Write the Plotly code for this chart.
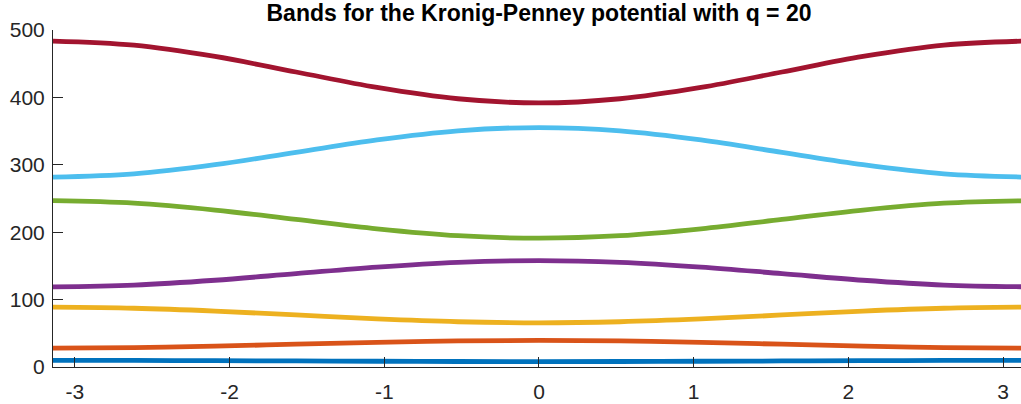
import numpy as np
import plotly.graph_objects as go

# Crystal momentum k (units of 1/a), evenly spaced over the Brillouin zone
k = [-np.pi, -5 * np.pi / 6, -2 * np.pi / 3, -np.pi / 2, -np.pi / 3, -np.pi / 6, 0.0,
     np.pi / 6, np.pi / 3, np.pi / 2, 2 * np.pi / 3, 5 * np.pi / 6, np.pi]

# Energies of the first seven bands at each k
band1 = [9.87, 9.75, 9.4, 8.96, 8.5, 8.17, 8.05, 8.17, 8.5, 8.96, 9.4, 9.75, 9.87]
band2 = [28.0, 28.8, 30.9, 33.8, 36.6, 38.7, 39.5, 38.7, 36.6, 33.8, 30.9, 28.8, 28.0]
band3 = [88.8, 87.2, 83.0, 77.2, 71.3, 67.1, 65.5, 67.1, 71.3, 77.2, 83.0, 87.2, 88.8]
band4 = [119.0, 121.6, 128.7, 138.5, 148.2, 155.3, 157.9, 155.3, 148.2, 138.5, 128.7, 121.6, 119.0]
band5 = [246.7, 243.0, 232.8, 218.9, 205.0, 194.8, 191.1, 194.8, 205.0, 218.9, 232.8, 243.0, 246.7]
band6 = [281.7, 286.6, 300.1, 318.5, 336.9, 350.4, 355.3, 350.4, 336.9, 318.5, 300.1, 286.6, 281.7]
band7 = [483.6, 477.5, 460.7, 437.7, 414.8, 398.0, 391.8, 398.0, 414.8, 437.7, 460.7, 477.5, 483.6]

bands = [band1, band2, band3, band4, band5, band6, band7]
colors = ["#0072BD", "#D95319", "#EDB120", "#7E2F8E", "#77AC30", "#4DBEEE", "#A2142F"]

x_ticks = [-3, -2, -1, 0, 1, 2, 3]
x_tick_text = ["-3", "-2", "-1", "0", "1", "2", "3"]
y_ticks = [0, 100, 200, 300, 400, 500]

fig = go.Figure()
for E, c in zip(bands, colors):
    fig.add_trace(go.Scatter(
        x=k, y=E, mode="lines",
        line=dict(color=c, width=4.8, shape="spline", smoothing=1.0),
        showlegend=False, hoverinfo="skip",
    ))

axis_common = dict(
    showline=True, linecolor="#262626", linewidth=1,
    ticks="inside", ticklen=10, tickwidth=1, tickcolor="#262626",
    showgrid=False, zeroline=False,
    tickfont=dict(family="Liberation Sans, Arial, sans-serif", size=21, color="#262626"),
)

fig.update_layout(
    width=1021, height=404,
    margin=dict(l=53, r=0, t=30, b=37),
    paper_bgcolor="white", plot_bgcolor="white",
    title=dict(
        text="<b>Bands for the Kronig-Penney potential with q = 20</b>",
        x=539 / 1021, xref="container", xanchor="center",
        y=1 - 13 / 404, yref="container", yanchor="middle",
        font=dict(family="Liberation Sans, Arial, sans-serif", size=23, color="black"),
    ),
    xaxis=dict(range=[-np.pi, 3.116], tickvals=x_ticks, ticktext=x_tick_text,
               ticklabelstandoff=6, **axis_common),
    yaxis=dict(range=[0, 500], tickvals=y_ticks, ticklabelstandoff=3, **axis_common),
)

fig.write_html("out.html")
